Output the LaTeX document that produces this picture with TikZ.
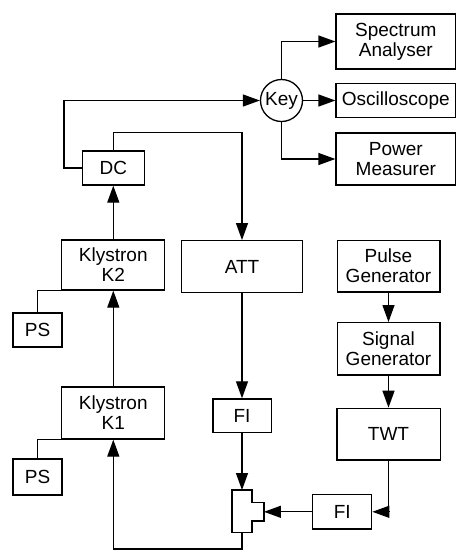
\documentclass[tikz,border=0pt]{standalone}
\usepackage{fontspec}
\setmainfont{Liberation Sans}
\usetikzlibrary{arrows.meta}

\begin{document}
\begin{tikzpicture}[x=1pt,y=-1pt,font=\fontsize{19}{20}\selectfont,line width=1.3pt,
  blk/.style={draw,align=center,inner sep=0pt},
  ar/.style={-{Triangle[length=17pt,width=12pt]}}]
\useasboundingbox (0,0) rectangle (457,550);
% measuring side
\node[blk,minimum width=119.5pt,minimum height=55pt] (spec) at (395.8,41.5) {Spectrum\\Analyser};
\node[blk,minimum width=119.5pt,minimum height=34pt] (osc) at (395.8,100.5) {Oscilloscope};
\node[blk,minimum width=119.5pt,minimum height=52pt] (pwr) at (395.8,159) {Power\\Measurer};
\node[draw,circle,inner sep=0pt,minimum size=42pt] (key) at (281.5,100.5) {Key};
% klystron chain
\node[blk,minimum width=62pt,minimum height=34pt] (dc) at (113.3,168) {DC};
\node[blk,minimum width=103pt,minimum height=50pt] (k2) at (113.3,265) {Klystron\\K2};
\node[blk,minimum width=49pt,minimum height=34pt] (ps2) at (37.5,330) {PS};
\node[blk,minimum width=103pt,minimum height=52pt] (k1) at (113.3,413) {Klystron\\K1};
\node[blk,minimum width=49pt,minimum height=36pt] (ps1) at (37.5,477) {PS};
\node[blk,minimum width=120.6pt,minimum height=51.6pt] (att) at (242,266.5) {ATT};
\node[blk,minimum width=58.3pt,minimum height=33.7pt] (fi1) at (242,415.8) {FI};
% pulsed drive
\node[blk,minimum width=102.7pt,minimum height=51.7pt] (pg) at (388.5,266) {Pulse\\Generator};
\node[blk,minimum width=102.7pt,minimum height=52.3pt] (sg) at (388.5,348.8) {Signal\\Generator};
\node[blk,minimum width=103.3pt,minimum height=51.7pt] (twt) at (388.5,434.2) {TWT};
\node[blk,minimum width=59pt,minimum height=34.3pt] (fi2) at (342.2,511.8) {FI};
% tee junction
\node[inner sep=0pt,minimum width=18.6pt,minimum height=41pt] (tee) at (242,511.2) {};
\node[inner sep=0pt,minimum width=12pt,minimum height=17pt] (tab) at (257.3,511.8) {};
\draw (tee.north west) -- (tee.north east) -- (tee.east |- tab.north) -- (tab.north east)
  -- (tab.south east) -- (tee.east |- tab.south) -- (tee.south east) -- (tee.south west) -- cycle;
\coordinate (lp) at (64,100.5);
\coordinate (lq) at (242,132.7);
\coordinate (bot) at (242,549);
\draw[ar] (dc.west) -| (lp) -- (key.west);
\draw[ar] (dc.north) |- (lq) -- (att.north);
\draw[ar] (key.north) |- (spec.west);
\draw[ar] (key) -- (osc);
\draw[ar] (key.south) |- (pwr.west);
\draw[ar] (k2) -- (dc); \draw[ar] (k1) -- (k2);
\draw (ps2.north) |- (k2.south west);
\draw (ps1.north) |- (k1.south west);
\draw[ar] (att) -- (fi1); \draw[ar] (fi1) -- (tee);
\draw[ar] (pg) -- (sg); \draw[ar] (sg) -- (twt);
\draw[ar] (twt.south) |- (fi2.east);
\draw[ar] (fi2) -- (tab);
\draw[ar] (tee.south) -- (bot) -| (k1.south);
\end{tikzpicture}
\end{document}
